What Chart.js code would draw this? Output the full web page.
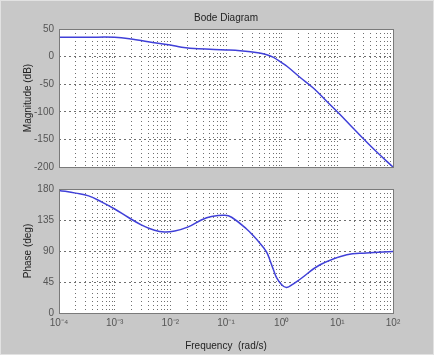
<!DOCTYPE html>
<html>
<head>
<meta charset="utf-8">
<script src="https://cdn.jsdelivr.net/npm/chart.js@4/dist/chart.umd.min.js"></script>
<style>
  html, body { margin:0; padding:0; }
  body { width:434px; height:355px; background:#c8c8c8; overflow:hidden; position:relative;
         box-shadow: inset 0 0 0 1px #e2e2e2; }
  canvas { position:absolute; left:0; }
</style>
</head>
<body>
<canvas id="mag" width="434" height="178" style="top:0"></canvas>
<canvas id="phase" width="434" height="177" style="top:178px"></canvas>
<script>
// ---- data ----
const titleText = "Bode Diagram";
const magLabel = "Magnitude (dB)";
const phaseLabel = "Phase (deg)";
const freqLabel = "Frequency  (rad/s)";

const magFreq = [1e-4, 3.2e-4, 1e-3, 2e-3, 4e-3, 1e-2, 1.6e-2, 3.2e-2, 0.1, 0.18, 0.4, 0.54, 0.7, 1, 1.26, 2.1, 3.7, 6.3, 10, 16.6, 28.8, 50, 100];
const magDb   = [35,   35,     35,   32,   27,   21,   17,     14,     12,  10.5, 6.5, 3.5,  -1,  -11, -18, -37, -57, -80, -100, -123, -148, -172, -200];

const phaseFreq = [1e-4, 2.0e-4, 3.4e-4, 5.9e-4, 1e-3, 1.74e-3, 3.0e-3, 5.2e-3, 7.9e-3, 1.2e-2, 2.1e-2, 3.6e-2, 5.5e-2, 0.095, 0.126, 0.234, 0.31, 0.41, 0.47, 0.54, 0.62, 0.71, 0.81, 1.0, 1.23, 1.6, 2.14, 4.9, 14.8, 33, 100];
const phaseDeg  = [178,  174,    170,    161,    151,  139,     128,    120,    117.5,  119,    125,    135,    140,    142,   139,   122,   112,  101,  95,   88,   76,   63,   51.5, 41,  37,   42,  49,   70,  84.6, 87,  89.3];

const magTicks = [-200, -150, -100, -50, 0, 50];
const phaseTicks = [0, 45, 90, 135, 180];
const decades = [-4, -3, -2, -1, 0, 1, 2];

// ---- helpers ----
const SUP = {'-':'\u207B','0':'\u2070','1':'\u00B9','2':'\u00B2','3':'\u00B3','4':'\u2074','5':'\u2075','6':'\u2076','7':'\u2077','8':'\u2078','9':'\u2079'};
function sup(s){ return String(s).split('').map(c => SUP[c] || c).join(''); }
function isDecade(v){ const l = Math.log10(v); return Math.abs(l - Math.round(l)) < 1e-9; }
const xTickValues = [];
for (let i = 0; i < decades.length; i++) {
  const p = decades[i];
  if (i === decades.length - 1) { xTickValues.push(Math.pow(10, p)); break; }
  for (let m = 1; m <= 9; m++) xTickValues.push(m * Math.pow(10, p));
}

const FONT = "'Liberation Sans', Arial, sans-serif";
const LINE = '#4040d8';
const GRID = 'rgba(50,50,50,0.7)';

const frame = {
  id: 'frame',
  afterDraw(chart) {
    const a = chart.chartArea, ctx = chart.ctx;
    ctx.save();
    ctx.strokeStyle = '#7a7a7a';
    ctx.lineWidth = 1;
    ctx.strokeRect(Math.round(a.left) + 0.5, Math.round(a.top) + 0.5, Math.round(a.right - a.left), Math.round(a.bottom - a.top));
    ctx.restore();
  }
};
const plotBg = {
  id: 'plotBg',
  beforeDraw(chart) {
    const a = chart.chartArea, ctx = chart.ctx;
    ctx.save();
    ctx.fillStyle = '#ffffff';
    ctx.fillRect(a.left, a.top, a.right - a.left, a.bottom - a.top);
    ctx.restore();
  }
};

function xScale(showTicks, axisHeight) {
  return {
    type: 'logarithmic',
    min: 1e-4, max: 100,
    afterBuildTicks(s) { s.ticks = xTickValues.map(v => ({ value: v })); },
    afterFit(s) { s.height = axisHeight; },
    grid: { color: GRID, lineWidth: 1, drawTicks: false },
    border: { display: false, dash: [1, 3] },
    ticks: {
      display: showTicks,
      autoSkip: false, maxRotation: 0, padding: 4,
      color: '#555', font: { family: FONT, size: 10 },
      callback(v) { return isDecade(v) ? '10' + sup(Math.round(Math.log10(v))) : ''; }
    },
    title: showTicks ? { display: true, text: freqLabel, color: '#222', font: { family: FONT, size: 10 }, padding: { top: 4, bottom: 3 } } : { display: false }
  };
}

function yScale(min, max, ticks, label) {
  return {
    min, max,
    afterBuildTicks(s) { s.ticks = ticks.map(v => ({ value: v })); },
    afterFit(s) { s.width = 41; },
    grid: { color: GRID, lineWidth: 1, drawTicks: false },
    border: { display: false, dash: [2, 3] },
    ticks: { padding: 5, color: '#555', font: { family: FONT, size: 10 } },
    title: { display: true, text: label, color: '#222', font: { family: FONT, size: 10 }, padding: { top: 4, bottom: 2 } }
  };
}

function lineData(fs, vs) { return fs.map((f, i) => ({ x: f, y: vs[i] })); }

const lineStyle = { borderColor: LINE, borderWidth: 1.5, pointRadius: 0, tension: 0.4, fill: false };

new Chart(document.getElementById('mag'), {
  type: 'line',
  data: { datasets: [Object.assign({ data: lineData(magFreq, magDb) }, lineStyle)] },
  options: {
    responsive: false, animation: false,
    layout: { padding: { left: 18, right: 41, top: 0, bottom: 4 } },
    plugins: {
      legend: { display: false }, tooltip: { enabled: false },
      title: { display: true, text: titleText, fullSize: false, color: '#222', font: { family: FONT, size: 10, weight: 'normal' }, padding: { top: 12, bottom: 5 } }
    },
    scales: { x: xScale(false, 0), y: yScale(-200, 50, magTicks, magLabel) }
  },
  plugins: [plotBg, frame]
});

new Chart(document.getElementById('phase'), {
  type: 'line',
  data: { datasets: [Object.assign({ data: lineData(phaseFreq, phaseDeg) }, lineStyle)] },
  options: {
    responsive: false, animation: false,
    layout: { padding: { left: 18, right: 41, top: 8, bottom: 0 } },
    plugins: { legend: { display: false }, tooltip: { enabled: false } },
    scales: { x: xScale(true, 42), y: yScale(0, 180, phaseTicks, phaseLabel) }
  },
  plugins: [plotBg, frame]
});
</script>
</body>
</html>
